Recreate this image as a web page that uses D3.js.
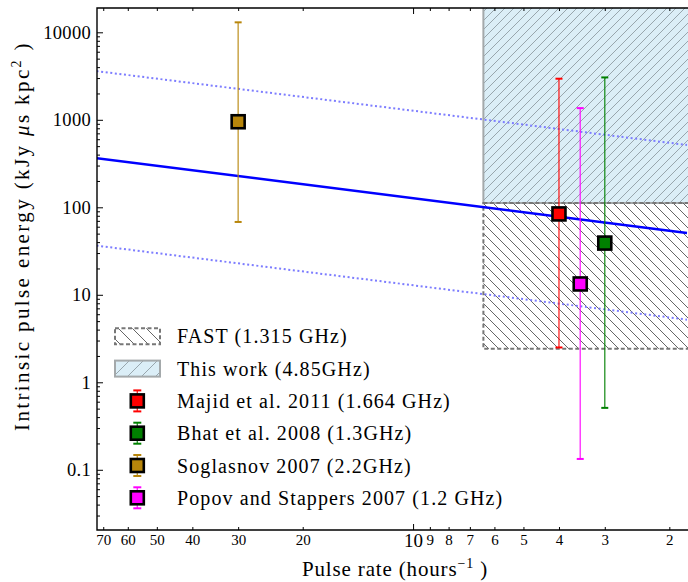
<!DOCTYPE html>
<html>
<head>
<meta charset="utf-8">
<script src="https://cdn.jsdelivr.net/npm/d3@7"></script>
<style>
  body { margin: 0; background: #fff; }
  svg { display: block; }
  text { font-family: "Liberation Serif", "DejaVu Serif", serif; fill: #000; }
</style>
</head>
<body>
<svg id="chart" width="688" height="582"></svg>
<script>
// tick labels
const rateTicks = [70, 60, 50, 40, 30, 20, 10, 9, 8, 7, 6, 5, 4, 3, 2];
const energyMajor = [0.1, 1, 10, 100, 1000, 10000];

// published single pulses
const refNames = ['Majid et al. 2011 (1.664 GHz)', 'Bhat et al. 2008 (1.3GHz)',
                  'Soglasnov 2007 (2.2GHz)', 'Popov and Stappers 2007 (1.2 GHz)'];
const refColors = ['#ff0000', '#008000', '#b8860b', '#ff00ff'];
const refRate = [4, 3, 30, 3.5];
const refEnergy = [84, 39, 950, 13.3];
const refLow = [2.5, 0.51, 68, 0.133];
const refHigh = [2950, 3050, 13000, 1360];

// survey regions
const boxNames = ['FAST (1.315 GHz)', 'This work (4.85GHz)'];
const boxRateFrom = [6.43, 6.43];
const boxRateTo = [1.5, 1.5];
const boxLow = [2.41, 112];
const boxHigh = [112, 40000];

// model lines (rate at left / right edge)
const lineRate = [73, 1.79];
const lineMid = [365, 51];
const lineUpper = [3600, 515];
const lineLower = [36.5, 5.2];

const L = 97, R = 687, T = 8, B = 530;
const svg = d3.select('#chart');

const x = d3.scaleLog().domain([72.8, 1.79]).range([L, R]);
const y = d3.scaleLog().domain([18960, 0.0205]).range([T, B]);

const defs = svg.append('defs');
defs.append('clipPath').attr('id', 'plot-clip')
  .append('rect').attr('x', L).attr('y', T).attr('width', R - L + 2).attr('height', B - T);

function hatch(id, step, dir, color, width) {
  const p = defs.append('pattern').attr('id', id)
    .attr('patternUnits', 'userSpaceOnUse').attr('width', step).attr('height', step);
  const d = dir === '/'
    ? `M0,${step} L${step},0 M${-step},${step} L0,0 M${step},${2 * step} L${2 * step},${step}`
    : `M0,0 L${step},${step} M${-step},0 L0,${step} M${step},0 L${2 * step},${step}`;
  p.append('path').attr('d', d).attr('stroke', color).attr('stroke-width', width).attr('fill', 'none');
}
hatch('hatch-this', 9, '/', '#98a6ad', 1);
hatch('hatch-fast', 10, '\\', '#555', 0.9);
hatch('hatch-this-leg', 14, '/', '#98a6ad', 1);
hatch('hatch-fast-leg', 14, '\\', '#555', 0.9);

const plot = svg.append('g').attr('clip-path', 'url(#plot-clip)');

// This work region
plot.append('rect')
  .attr('x', x(boxRateFrom[1])).attr('y', y(boxHigh[1]))
  .attr('width', x(boxRateTo[1]) - x(boxRateFrom[1]))
  .attr('height', y(boxLow[1]) - y(boxHigh[1]))
  .attr('fill', '#dbeef7');
plot.append('rect')
  .attr('x', x(boxRateFrom[1])).attr('y', y(boxHigh[1]))
  .attr('width', x(boxRateTo[1]) - x(boxRateFrom[1]))
  .attr('height', y(boxLow[1]) - y(boxHigh[1]))
  .attr('fill', 'url(#hatch-this)')
  .attr('stroke', '#a4a9ab').attr('stroke-width', 2);

// FAST region
plot.append('rect')
  .attr('x', x(boxRateFrom[0])).attr('y', y(boxHigh[0]))
  .attr('width', x(boxRateTo[0]) - x(boxRateFrom[0]))
  .attr('height', y(boxLow[0]) - y(boxHigh[0]))
  .attr('fill', 'url(#hatch-fast)')
  .attr('stroke', '#777').attr('stroke-width', 2)
  .attr('stroke-dasharray', '4,2.5');

// model lines
const line = d3.line().x(d => x(d[0])).y(d => y(d[1]));
[[lineUpper, true], [lineLower, true], [lineMid, false]].forEach(([vals, dotted]) => {
  plot.append('path')
    .attr('d', line(lineRate.map((r, i) => [r, vals[i]])))
    .attr('fill', 'none')
    .attr('stroke', dotted ? '#7d7dff' : '#0000ff')
    .attr('stroke-width', dotted ? 2 : 2.5)
    .attr('stroke-dasharray', dotted ? '2,2.6' : null);
});

// error bars and markers
refRate.forEach((r, i) => {
  const cx = x(r);
  const g = plot.append('g');
  g.append('line').attr('x1', cx).attr('x2', cx)
    .attr('y1', y(refHigh[i])).attr('y2', y(refLow[i]))
    .attr('stroke', refColors[i]).attr('stroke-width', 1.4).attr('opacity', 0.8);
  [refHigh[i], refLow[i]].forEach(v => {
    g.append('line').attr('x1', cx - 3.5).attr('x2', cx + 3.5)
      .attr('y1', y(v)).attr('y2', y(v))
      .attr('stroke', refColors[i]).attr('stroke-width', 2);
  });
  g.append('rect').attr('x', cx - 6.5).attr('y', y(refEnergy[i]) - 6.5)
    .attr('width', 13).attr('height', 13)
    .attr('fill', refColors[i]).attr('stroke', '#000').attr('stroke-width', 2.6);
});

// axes
const yMinor = [];
[0.01, 0.1, 1, 10, 100, 1000, 10000].forEach(dec => {
  for (let m = 2; m <= 9; m++) {
    const v = dec * m;
    if (v > 0.0205 && v < 18960) yMinor.push(v);
  }
});

const gx = svg.append('g').attr('transform', `translate(0,${B})`)
  .call(d3.axisBottom(x).tickValues(rateTicks).tickSize(-3).tickPadding(4).tickFormat(d3.format('d')));
gx.select('.domain').remove();
gx.selectAll('.tick line').attr('stroke', '#000').attr('stroke-width', 1);
gx.selectAll('.tick text').style('font-size', '15px').attr('fill', '#000');
gx.selectAll('.tick').filter(d => d === 10).select('line').attr('y2', -6);
gx.selectAll('.tick').filter(d => d === 10).select('text').style('font-size', '19px');

const gxTop = svg.append('g').attr('transform', `translate(0,${T})`)
  .call(d3.axisTop(x).tickValues(rateTicks).tickSize(-3).tickFormat(''));
gxTop.select('.domain').remove();
gxTop.selectAll('.tick').filter(d => d === 10).select('line').attr('y2', 6);

const gyMinor = svg.append('g').attr('transform', `translate(${L},0)`)
  .call(d3.axisLeft(y).tickValues(yMinor).tickSize(-3).tickFormat(''));
gyMinor.select('.domain').remove();

const gy = svg.append('g').attr('transform', `translate(${L},0)`)
  .call(d3.axisLeft(y).tickValues(energyMajor).tickSize(-6).tickPadding(6).tickFormat(d3.format('~g')));
gy.select('.domain').remove();
gy.selectAll('.tick text').style('font-size', '18.5px').style('letter-spacing', '0.3px').attr('fill', '#000');

// spines
svg.append('path')
  .attr('d', `M${R + 2},${T} H${L} V${B} H${R + 2}`)
  .attr('fill', 'none').attr('stroke', '#000').attr('stroke-width', 1.4);

// stretch a title to the width the serif original takes
function fitText(sel, target) {
  const node = sel.node();
  const w = node.getComputedTextLength();
  const n = node.textContent.length;
  sel.style('letter-spacing', ((target - w) / n) + 'px');
}

// axis titles
const xt = svg.append('text').attr('x', 395).attr('y', 576)
  .attr('text-anchor', 'middle').style('font-size', '21px');
xt.append('tspan').text('Pulse rate (hours');
xt.append('tspan').attr('dy', -8).style('font-size', '14px').text('\u22121');
xt.append('tspan').attr('dy', 8).text(' )');
fitText(xt, 186);

const yt = svg.append('text').attr('transform', 'translate(29,236) rotate(-90)')
  .attr('text-anchor', 'middle').style('font-size', '21px');
yt.append('tspan').text('Intrinsic pulse energy (kJy ');
yt.append('tspan').style('font-style', 'italic').text('\u03bc');
yt.append('tspan').text('s kpc');
yt.append('tspan').attr('dy', -8).style('font-size', '14px').text('2');
yt.append('tspan').attr('dy', 8).text(' )');
fitText(yt, 390);

// legend
const legX = 115, textX = 177, row0 = 336.3, rowStep = 32.3;
const leg = svg.append('g');
boxNames.forEach((name, i) => {
  const cy = row0 + i * rowStep;
  if (i === 1) {
    leg.append('rect').attr('x', legX).attr('y', cy - 8).attr('width', 45).attr('height', 16)
      .attr('fill', '#dbeef7');
  }
  leg.append('rect').attr('x', legX).attr('y', cy - 8).attr('width', 45).attr('height', 16)
    .attr('fill', i === 0 ? 'url(#hatch-fast-leg)' : 'url(#hatch-this-leg)')
    .attr('stroke', i === 0 ? '#777' : '#a4a9ab').attr('stroke-width', 2)
    .attr('stroke-dasharray', i === 0 ? '4,2.5' : null);
  leg.append('text').attr('x', textX).attr('y', cy + 7)
    .style('font-size', '20px').style('letter-spacing', '1.1px').text(name);
});
refNames.forEach((name, i) => {
  const cy = row0 + (i + 2) * rowStep;
  const cx = 137.3;
  leg.append('line').attr('x1', cx).attr('x2', cx).attr('y1', cy - 10.5).attr('y2', cy + 10.5)
    .attr('stroke', refColors[i]).attr('stroke-width', 1.4).attr('opacity', 0.8);
  [cy - 10.5, cy + 10.5].forEach(v => {
    leg.append('line').attr('x1', cx - 4).attr('x2', cx + 4).attr('y1', v).attr('y2', v)
      .attr('stroke', refColors[i]).attr('stroke-width', 2);
  });
  leg.append('rect').attr('x', cx - 6.5).attr('y', cy - 6.5).attr('width', 13).attr('height', 13)
    .attr('fill', refColors[i]).attr('stroke', '#000').attr('stroke-width', 2.6);
  leg.append('text').attr('x', textX).attr('y', cy + 7)
    .style('font-size', '20px').style('letter-spacing', '1.1px').text(name);
});
</script>
</body>
</html>
